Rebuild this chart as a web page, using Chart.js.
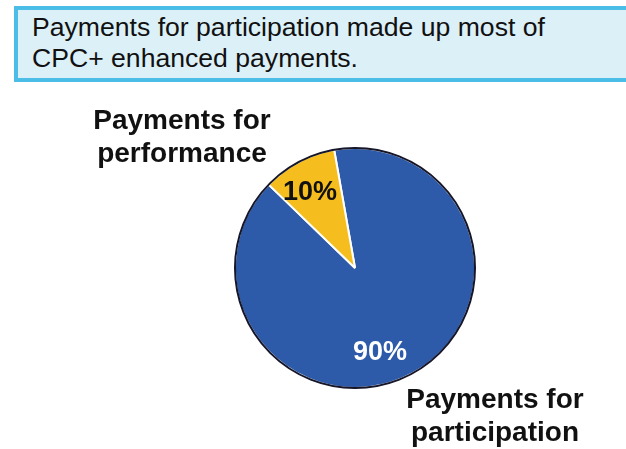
<!DOCTYPE html>
<html>
<head>
<meta charset="utf-8">
<script src="https://cdn.jsdelivr.net/npm/chart.js@4/dist/chart.umd.min.js"></script>
<style>
  body { margin: 0; background: #fff; width: 626px; height: 449px; overflow: hidden; position: relative; }
  #header {
    position: absolute; left: 14px; top: 6px; width: 612px; height: 66px;
    background: #dcf0f8; border: 4px solid #4bbde6; border-right: none;
    font-family: "Liberation Sans", Arial, sans-serif; font-size: 26.6px; line-height: 31px;
    color: #111; padding: 2px 0 0 14px; box-sizing: content-box;
  }
  #wrap { position: absolute; left: 0; top: 84px; width: 626px; height: 365px; }
</style>
</head>
<body>
<div id="header">Payments for participation made up most of<br>CPC+ enhanced payments.</div>
<div id="wrap"><canvas id="pie"></canvas></div>
<script>
const categories = ['Payments for participation', 'Payments for performance'];
const shares = [90, 10];
const sliceColors = ['#2e5ba9', '#f5be1e'];
const labelLines = [['Payments for', 'participation'], ['Payments for', 'performance']];

// where each slice's text goes, relative to the pie centre
const pctSpots = [{ dx: 25, dy: 92, color: '#ffffff' }, { dx: -45, dy: -68, color: '#111111' }];
const nameSpots = [{ dx: 140, dy: 140 }, { dx: -173, dy: -139 }];

const labelPlugin = {
  id: 'pieLabels',
  afterDatasetsDraw(chart) {
    const ctx = chart.ctx;
    const meta = chart.getDatasetMeta(0);
    const arc = meta.data[0];
    const cx = arc.x, cy = arc.y, r = arc.outerRadius;
    const total = shares.reduce((a, b) => a + b, 0);

    // dark rim round the pie
    ctx.save();
    ctx.beginPath();
    ctx.arc(cx, cy, r, 0, Math.PI * 2);
    ctx.strokeStyle = '#16162a';
    ctx.lineWidth = 2;
    ctx.stroke();

    ctx.textAlign = 'center';
    ctx.textBaseline = 'alphabetic';
    ctx.font = 'bold 27px "Liberation Sans", Arial, sans-serif';
    shares.forEach((v, i) => {
      const s = pctSpots[i];
      ctx.fillStyle = s.color;
      ctx.fillText(Math.round(v / total * 100) + '%', cx + s.dx, cy + s.dy);
    });

    ctx.font = 'bold 28px "Liberation Sans", Arial, sans-serif';
    ctx.fillStyle = '#111';
    labelLines.forEach((lines, i) => {
      const s = nameSpots[i];
      lines.forEach((t, j) => ctx.fillText(t, cx + s.dx, cy + s.dy + j * 33));
    });
    ctx.restore();
  }
};

new Chart(document.getElementById('pie'), {
  type: 'pie',
  data: {
    labels: categories,
    datasets: [{
      data: shares,
      backgroundColor: sliceColors,
      borderColor: '#ffffff',
      borderWidth: 2
    }]
  },
  options: {
    responsive: true,
    maintainAspectRatio: false,
    animation: false,
    rotation: -10,
    layout: { padding: { left: 234, right: 150, top: 63, bottom: 60 } },
    plugins: {
      legend: { display: false },
      tooltip: { enabled: false }
    }
  },
  plugins: [labelPlugin]
});
</script>
</body>
</html>
